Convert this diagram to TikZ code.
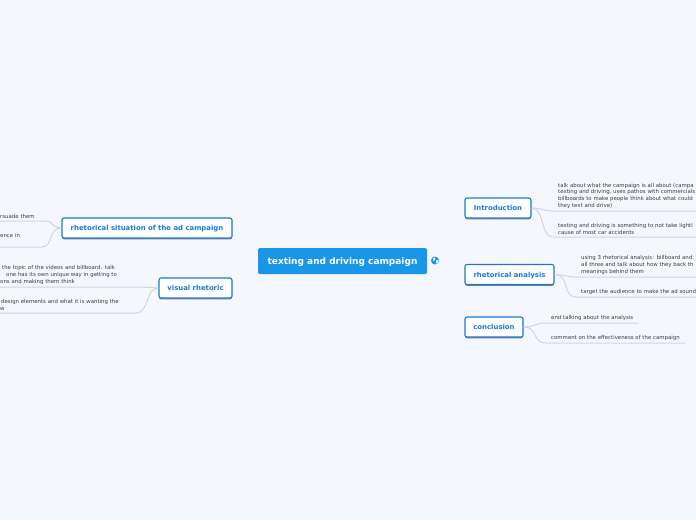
\documentclass[tikz,border=0pt]{standalone}
\usepackage{fontspec}
\setmainfont{DejaVu Sans}
\usetikzlibrary{shadows,backgrounds}
\definecolor{pagebg}{HTML}{F4F7FE}
\definecolor{rootblue}{HTML}{1A96E8}
\definecolor{topicblue}{HTML}{1A7AD8}
\definecolor{mainline}{HTML}{ABAEB8}
\definecolor{subline}{HTML}{D2D5E0}
\definecolor{subtext}{HTML}{3C3C44}
\tikzset{
    rootbox/.style={draw=none,fill=rootblue,rounded corners=1.5pt,text=white,inner sep=0pt,minimum width=169pt,minimum height=26pt,text height=6.5pt,text depth=0pt,font=\fontsize{9}{11}\selectfont\bfseries},
    topicbox/.style={draw=topicblue,line width=1.1pt,fill=white,rounded corners=2pt,text=topicblue,inner sep=0pt,minimum height=20pt,text height=5pt,text depth=0pt,font=\fontsize{6.9}{8}\selectfont\bfseries,drop shadow={shadow xshift=0pt,shadow yshift=-1.4pt,fill=black!70,opacity=0.7}},
    subbox/.style={text=subtext,align=left,inner xsep=5pt,inner ysep=2.5pt,font=\fontsize{5.4}{6.7}\selectfont},
    mainedge/.style={draw=mainline,line width=1pt},
    subedge/.style={draw=subline,line width=1pt}
}
\begin{document}
\begin{tikzpicture}[x=1pt,y=-1pt]
    \useasboundingbox (0,0) rectangle (696,520);
    \clip (0,0) rectangle (696,520);
    \fill[pagebg] (0,0) rectangle (696,520);
    % centre and main topics
    \node[rootbox] (root) at (342.5,261) {texting and driving campaign};
    \node[topicbox,minimum width=66pt] (intro) at (498,208) {Introduction};
    \node[topicbox,minimum width=89pt] (analysis) at (509.5,274.5) {rhetorical analysis};
    \node[topicbox,minimum width=58pt] (concl) at (494,327) {conclusion};
    \node[topicbox,minimum width=170pt] (situation) at (147,228) {rhetorical situation of the ad campaign};
    \node[topicbox,minimum width=73pt] (visual) at (195.5,288) {visual rhetoric};
    % right hand texts
    \node[subbox,text width=200pt,anchor=south west] (introA) at (553,211) {talk about what the campaign is all about (campa\\texting and driving, uses pathos with commercials\\billboards to make people think about what could\\they text and drive)};
    \node[subbox,text width=200pt,anchor=south west] (introB) at (553,237) {texting and driving is something to not take lightl\\cause of most car accidents};
    \node[subbox,text width=200pt,anchor=south west] (analysisA) at (576,277) {using 3 rhetorical analysis: billboard and\\all three and talk about how they back th\\meanings behind them};
    \node[subbox,text width=200pt,anchor=south west] (analysisB) at (576,297) {target the audience to make the ad sound};
    \node[subbox,text width=82pt,anchor=south west] (conclA) at (546,323) {\mbox{end talking about the analysis}};
    \node[subbox,text width=129pt,anchor=south west] (conclB) at (546,343) {comment on the effectiveness of the campaign};
    % left hand texts
    \node[subbox,text width=42pt,anchor=south west] (situationA) at (-5,221) {rsuade them};
    \node[subbox,text width=37pt,anchor=south west] (situationB) at (-5,247) {ence in\\~};
    \node[subbox,text width=135pt,anchor=south west] (visualA) at (-5,287) {\hspace*{2pt}the topic of the videos and billboard. talk\\\hspace*{6pt}one has its own unique way in getting to\\ons and making them think};
    \node[subbox,text width=130pt,anchor=south west] (visualB) at (-5,313) {\hspace*{1pt}design elements and what it is wanting the\\w};
    % globe
    \node[circle,fill=rootblue,inner sep=0pt,minimum size=8pt] (globe) at (435,260.5) {};
    \fill[white] (433,258) -- (435.5,257.5) -- (435,260) -- (433.5,261) -- cycle;
    \fill[white] (436.5,260) -- (438.5,260.5) -- (437,264) -- (436,262.5) -- cycle;
    \begin{pgfonlayer}{background}
        \draw[mainedge] (root.center) .. controls (395,222) and (430,208) .. (intro.west);
        \draw[mainedge] (root.center) .. controls (400,268) and (430,274) .. (analysis.west);
        \draw[mainedge] (root.center) .. controls (395,300) and (425,327) .. (concl.west);
        \draw[mainedge] (root.center) .. controls (295,235) and (260,228) .. (situation.east);
        \draw[mainedge] (root.center) .. controls (300,276) and (265,288) .. (visual.east);
    \end{pgfonlayer}
    % sub topic lines
    \draw[subedge] (intro.east) .. controls (542,208) and (543,211) .. (introA.south west) -- (introA.south east);
    \draw[subedge] (intro.east) .. controls (545,208) and (540,237) .. (introB.south west) -- (introB.south east);
    \draw[subedge] (analysis.east) .. controls (565,274.5) and (566,277) .. (analysisA.south west) -- (analysisA.south east);
    \draw[subedge] (analysis.east) .. controls (570,274.5) and (562,297) .. (analysisB.south west) -- (analysisB.south east);
    \draw[subedge] (concl.east) .. controls (535,327) and (535,323) .. (conclA.south west) -- (conclA.south east);
    \draw[subedge] (concl.east) .. controls (538,327) and (532,343) .. (conclB.south west) -- (conclB.south east);
    \draw[subedge] (situation.west) .. controls (52,228) and (52,221) .. (situationA.south east) -- (situationA.south west);
    \draw[subedge] (situation.west) .. controls (48,228) and (53,247) .. (situationB.south east) -- (situationB.south west);
    \draw[subedge] (visual.west) .. controls (150,288) and (150,287) .. (visualA.south east) -- (visualA.south west);
    \draw[subedge] (visual.west) .. controls (145,288) and (150,313) .. (visualB.south east) -- (visualB.south west);
\end{tikzpicture}
\end{document}
